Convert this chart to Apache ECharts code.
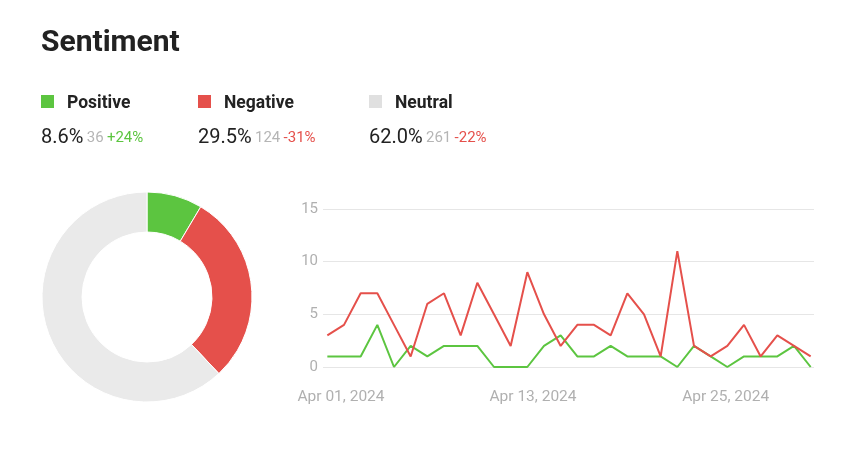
<!DOCTYPE html>
<html>
<head>
<meta charset="utf-8">
<script src="https://cdn.jsdelivr.net/npm/echarts@6/dist/echarts.min.js"></script>
<style>html,body{margin:0;padding:0;background:#fff}#c{width:852px;height:468px}</style>
</head>
<body>
<div id="c"></div>
<script>
// ---- data ----
var sentimentNames = ['Positive', 'Negative', 'Neutral'];
var sentimentCounts = [36, 124, 261];
var sentimentShares = ['8.6%', '29.5%', '62.0%'];
var sentimentChanges = ['+24%', '-31%', '-22%'];
var dayIndex = [0,1,2,3,4,5,6,7,8,9,10,11,12,13,14,15,16,17,18,19,20,21,22,23,24,25,26,27,28,29];
var positiveDaily = [1,1,1,4,0,2,1,2,2,2,0,0,0,2,3,1,1,2,1,1,1,0,2,1,0,1,1,1,2,0];
var negativeDaily = [3,4,7,7,4,1,6,7,3,8,5,2,9,5,2,4,4,3,7,5,1,11,2,1,2,4,1,3,2,1];
var xTickLabels = ['Apr 01, 2024', 'Apr 13, 2024', 'Apr 25, 2024'];
var yTicks = [0, 5, 10, 15];

var COL = {pos:'#5cc540', neg:'#e5504b', neu:'#eaeaea', neuLegend:'#e0e0e0'};
var FONT = 'Roboto, "Noto Sans", sans-serif';

var chart = echarts.init(document.getElementById('c'), null, {renderer:'canvas'});

var colColors = [COL.pos, COL.neg, COL.neuLegend];
var changeColors = [COL.pos, COL.neg, COL.neg];
var colX = [41, 198, 369];
var graphics = [{
  type:'text', x:41, y:28,
  style:{text:'Sentiment', font:'bold 30px ' + FONT, fill:'#222'}
}];
sentimentNames.forEach(function(n, i){
  graphics.push({type:'rect', shape:{x:colX[i], y:95, width:13, height:13}, style:{fill:colColors[i]}});
  graphics.push({type:'text', x:colX[i] + 26, y:95, style:{text:n, font:'bold 17.5px ' + FONT, fill:'#222'}});
  graphics.push({type:'text', x:colX[i], y:128,
    style:{
      text:'{a|' + sentimentShares[i] + '} {b|' + sentimentCounts[i] + '} {c|' + sentimentChanges[i] + '}',
      rich:{
        a:{fontFamily:FONT, fontSize:20, fill:'#222'},
        b:{fontFamily:FONT, fontSize:15, fill:'#b5b5b5'},
        c:{fontFamily:FONT, fontSize:15, fill:changeColors[i]}
      }
    }
  });
});

function pairs(vals){ return dayIndex.map(function(d,i){ return [d, vals[i]]; }); }
var labelAt = [0.82, 12.34, 23.9];

var option = {
  animation:false,
  graphic:graphics,
  grid:{left:323, width:491, top:209, height:158, containLabel:false},
  xAxis:[{
    type:'value', min:-0.26, max:29.2,
    axisLine:{show:false}, axisTick:{show:false}, splitLine:{show:false},
    axisLabel:{
      customValues:labelAt,
      formatter:function(v){
        var best = 0;
        for (var k = 0; k < labelAt.length; k++) if (Math.abs(labelAt[k]-v) < Math.abs(labelAt[best]-v)) best = k;
        return xTickLabels[best];
      },
      color:'#b0b0b0', fontSize:15.5, fontFamily:FONT, margin:22
    }
  }],
  yAxis:{
    type:'value', min:yTicks[0], max:yTicks[yTicks.length-1], interval:5,
    axisLine:{show:false}, axisTick:{show:false},
    splitLine:{lineStyle:{color:'#e6e6e6', width:1}},
    axisLabel:{color:'#b0b0b0', fontSize:15, fontFamily:FONT, margin:5}
  },
  series:[
    {type:'pie', center:[147,297], radius:[65,105], startAngle:90, clockwise:true,
     label:{show:false}, labelLine:{show:false}, silent:true,
     itemStyle:{borderColor:'#fff', borderWidth:1},
     data:sentimentNames.map(function(n,i){ return {name:n, value:sentimentCounts[i], itemStyle:{color:[COL.pos,COL.neg,COL.neu][i]}}; })
    },
    {type:'line', name:'Negative', data:pairs(negativeDaily), showSymbol:false, symbol:'none',
     lineStyle:{color:COL.neg, width:2}, itemStyle:{color:COL.neg}, silent:true, z:3},
    {type:'line', name:'Positive', data:pairs(positiveDaily), showSymbol:false, symbol:'none',
     lineStyle:{color:COL.pos, width:2}, itemStyle:{color:COL.pos}, silent:true, z:2}
  ]
};
chart.setOption(option);
</script>
</body>
</html>
